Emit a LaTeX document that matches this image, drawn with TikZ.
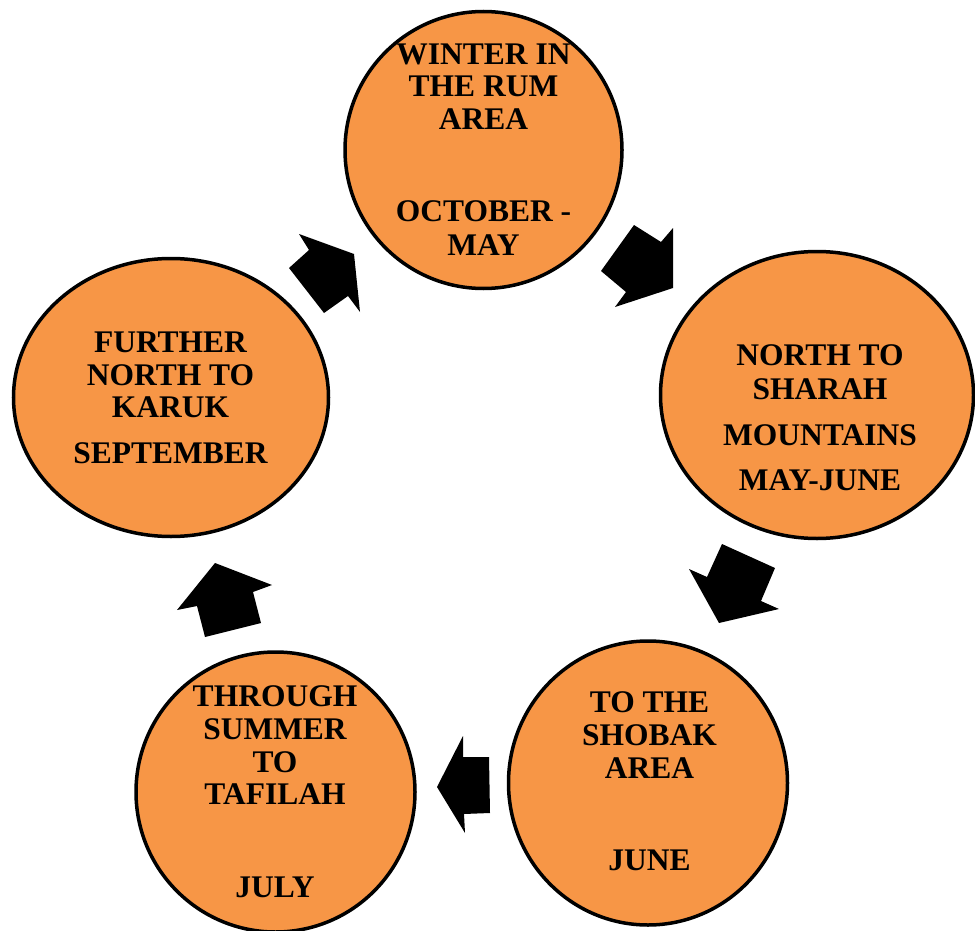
\documentclass[tikz,border=0pt]{standalone}
\usepackage{fontspec}
\setmainfont{Liberation Serif}
\usetikzlibrary{shapes.geometric}
\definecolor{orng}{HTML}{F79646}
\tikzset{
  stage/.style={ellipse, draw=black, line width=3.5pt, fill=orng, inner sep=0pt},
  lbl/.style={anchor=base, inner sep=0pt, font=\fontsize{31.5}{32}\selectfont\bfseries},
  blk/.style={fill=black, draw=none}
}
\begin{document}
\begin{tikzpicture}[x=1pt, y=-1pt]
\useasboundingbox (0,0) rectangle (975,931);
% stages
\node[stage, minimum width=277pt, minimum height=277pt] (s1) at (483.5,150) {};
\node[stage, minimum width=313pt, minimum height=287pt] (s2) at (817,395) {};
\node[stage, minimum width=279pt, minimum height=284pt] (s3) at (648,783) {};
\node[stage, minimum width=279pt, minimum height=280pt] (s4) at (275.5,792) {};
\node[stage, minimum width=315pt, minimum height=278pt] (s5) at (171,397.5) {};
% labels
\node[lbl] (t1a) at (483.5,65) {WINTER IN};
\node[lbl] (t1b) at (483.5,97) {THE RUM};
\node[lbl] (t1c) at (483.5,130) {AREA};
\node[lbl] (t1d) at (483.5,222) {OCTOBER -};
\node[lbl] (t1e) at (483.5,255) {MAY};
\node[lbl] (t2a) at (820,365) {NORTH TO};
\node[lbl] (t2b) at (820,399) {SHARAH};
\node[lbl] (t2c) at (820,445) {MOUNTAINS};
\node[lbl] (t2d) at (820,490) {MAY-JUNE};
\node[lbl] (t3a) at (649.5,712) {TO THE};
\node[lbl] (t3b) at (649.5,745) {SHOBAK};
\node[lbl] (t3c) at (649.5,778) {AREA};
\node[lbl] (t3d) at (649.5,870) {JUNE};
\node[lbl] (t4a) at (275,706) {THROUGH};
\node[lbl] (t4b) at (275,739) {SUMMER};
\node[lbl] (t4c) at (275,772) {TO};
\node[lbl] (t4d) at (275,804) {TAFILAH};
\node[lbl] (t4e) at (275,897) {JULY};
\node[lbl] (t5a) at (170.5,352) {FURTHER};
\node[lbl] (t5b) at (170.5,385) {NORTH TO};
\node[lbl] (t5c) at (170.5,417) {KARUK};
\node[lbl] (t5d) at (170.5,463) {SEPTEMBER};
% block arrows
\fill[blk] (299,234) -- (354,254) -- (360,312) -- (348,296) -- (324,313) -- (289,268) -- (309,250) -- cycle;
\fill[blk] (634,225) -- (661,242) -- (673,228) -- (673,288) -- (615,307) -- (626,292) -- (601,271) -- cycle;
\fill[blk] (722,544) -- (775,568) -- (761,601) -- (779,609) -- (719,623) -- (689,569) -- (707,577) -- cycle;
\fill[blk] (437,787) -- (463,736) -- (463,757) -- (489,757) -- (490,813) -- (464,814) -- (465,833) -- cycle;
\fill[blk] (215,563) -- (272,585) -- (253,592) -- (261,623) -- (205,637) -- (197,606) -- (177,610) -- cycle;
\end{tikzpicture}
\end{document}
